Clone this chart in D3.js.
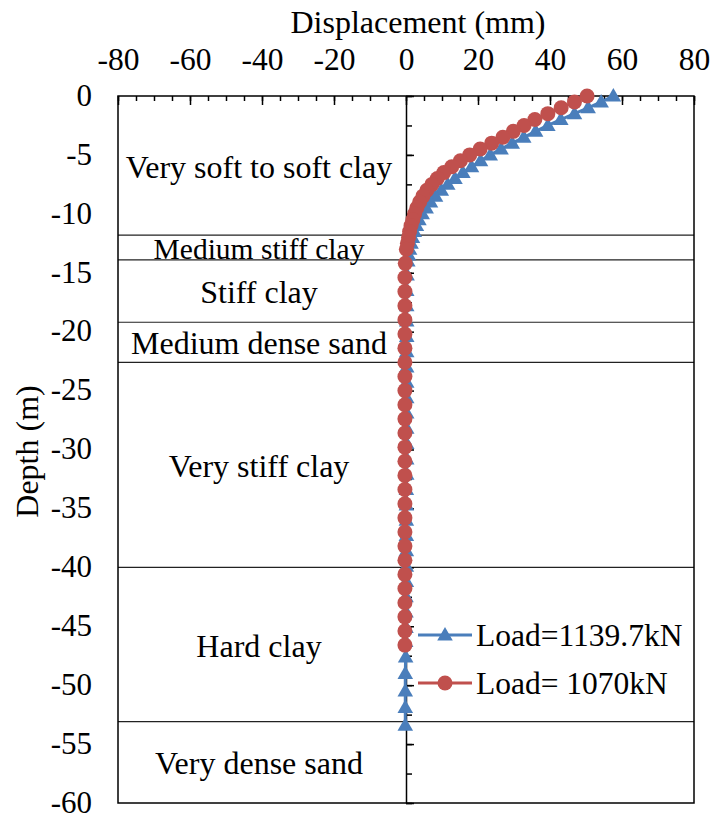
<!DOCTYPE html>
<html>
<head>
<meta charset="utf-8">
<script src="https://cdn.jsdelivr.net/npm/d3@7"></script>
<style>
  html, body { margin: 0; padding: 0; background: #fff; }
  svg { display: block; font-family: "Liberation Serif", "Times New Roman", serif; }
</style>
</head>
<body>
<svg id="chart" width="714" height="818"></svg>
<script>
// Lateral displacement profile of the pile under two load levels
const xTicks = [-80, -60, -40, -20, 0, 20, 40, 60, 80];
const yTicks = [0, -5, -10, -15, -20, -25, -30, -35, -40, -45, -50, -55, -60];

// Load = 1139.7 kN
const blueDepth = [0, -0.5, -1.0, -1.5, -2.0, -2.5, -3.0, -3.5, -4.0, -4.5, -5.0, -5.5, -6.0, -6.5, -7.0,
  -7.5, -8.0, -8.5, -9.0, -9.5, -10.0, -10.5, -11.0, -11.5, -12.0, -12.5, -13.0, -13.5, -14.0,
  -15.2, -16.5, -17.8, -19.1, -20.4, -21.7, -23.0, -24.3, -25.6, -26.9, -28.2, -29.5, -30.8, -32.1,
  -33.4, -34.7, -36.0, -37.3, -38.6, -39.9, -41.2, -42.5, -43.8, -45.1, -46.3, -47.6, -49.0, -50.5,
  -51.9, -53.4];
const blueDisp = [57.6, 54.2, 50.6, 46.8, 43.0, 39.4, 36.0, 32.7, 29.5, 26.4, 23.4, 20.7, 18.2, 15.8, 13.6,
  11.6, 9.8, 8.2, 6.8, 5.6, 4.5, 3.6, 2.9, 2.3, 1.8, 1.4, 1.0, 0.7, 0.5,
  0.3, 0.2, 0.2, 0.2, 0.2, 0.2, 0.2, 0.2, 0.2, 0.2, 0.2, 0.2, 0.2, 0.2,
  0.1, 0.1, 0.1, 0.1, 0.1, 0.1, 0.1, 0.0, 0.0, 0.0, -0.1, -0.1, -0.2, -0.2,
  -0.2, -0.2];

// Load = 1070 kN
const redDepth = [0, -0.5, -1.0, -1.5, -2.0, -2.5, -3.0, -3.5, -4.0, -4.5, -5.0, -5.5, -6.0, -6.5, -7.0,
  -7.5, -8.0, -8.5, -9.0, -9.5, -10.0, -10.5, -11.0, -11.5, -12.0, -12.5, -13.0,
  -14.2, -15.4, -16.6, -17.8, -19.0, -20.2, -21.4, -22.6, -23.8, -25.0, -26.2, -27.4, -28.6, -29.8,
  -31.0, -32.2, -33.4, -34.6, -35.8, -37.0, -38.2, -39.4, -40.6, -41.8, -43.0, -44.2, -45.4, -46.6];
const redDisp = [50.3, 46.8, 43.1, 39.4, 35.8, 32.8, 29.8, 26.9, 23.8, 20.6, 17.7, 15.1, 12.7, 10.5, 8.7,
  7.2, 5.8, 4.7, 3.8, 3.0, 2.4, 1.9, 1.4, 1.0, 0.7, 0.4, 0.1,
  -0.2, -0.3, -0.3, -0.3, -0.3, -0.3, -0.3, -0.3, -0.3, -0.3, -0.3, -0.3, -0.3, -0.3,
  -0.3, -0.3, -0.3, -0.3, -0.3, -0.3, -0.3, -0.3, -0.3, -0.3, -0.3, -0.3, -0.3, -0.3];

// Soil layers: bottom depth of each layer and its name
const layerBottoms = [-11.8, -13.9, -19.2, -22.6, -40, -53.1, -60];
const layerNames = ["Very soft to soft clay", "Medium stiff clay", "Stiff clay", "Medium dense sand",
  "Very stiff clay", "Hard clay", "Very dense sand"];

const seriesNames = ["Load=1139.7kN", "Load= 1070kN"];

const BLUE = "#4A7EBB", RED = "#C0504D";
const FONT = "Liberation Serif, Times New Roman, serif";
const fmt = d => String(d); // plain hyphen-minus labels
const svg = d3.select("#chart");

const x = d3.scaleLinear().domain([-80, 80]).range([118, 694]);
const y = d3.scaleLinear().domain([0, -60]).range([96, 803]);

// layer boundaries
const layerG = svg.append("g");
layerG.selectAll("line").data(layerBottoms.slice(0, -1)).join("line")
  .attr("x1", x(-80)).attr("x2", x(80))
  .attr("y1", d => y(d)).attr("y2", d => y(d))
  .attr("stroke", "#222").attr("stroke-width", 1.2);

// layer names, centred in each layer on the left half
const layerTops = [0].concat(layerBottoms.slice(0, -1));
layerG.selectAll("text").data(layerNames).join("text")
  .attr("x", (x(-80) + x(0)) / 2 - 3)
  .attr("y", (d, i) => (y(layerTops[i]) + y(layerBottoms[i])) / 2 + 12)
  .attr("text-anchor", "middle")
  .attr("font-size", (d, i) => i === 1 ? 29.5 : 32)
  .attr("fill", "#000")
  .text(d => d);

// plot frame
svg.append("rect")
  .attr("x", x(-80)).attr("y", y(0))
  .attr("width", x(80) - x(-80)).attr("height", y(-60) - y(0))
  .attr("fill", "none").attr("stroke", "#000").attr("stroke-width", 1.5);

// top x axis: ticks point into the plot, labels above
const xMinor = svg.append("g").attr("transform", `translate(0,${y(0)})`)
  .call(d3.axisTop(x).tickValues(d3.range(-80, 81, 5)).tickSizeInner(-5).tickSizeOuter(0).tickFormat(""));
const xMajor = svg.append("g").attr("transform", `translate(0,${y(0)})`)
  .call(d3.axisTop(x).tickValues(xTicks).tickSizeInner(-9).tickSizeOuter(0).tickPadding(26).tickFormat(fmt));
[xMinor, xMajor].forEach(g => {
  g.select(".domain").remove();
  g.selectAll("line").attr("stroke", "#000").attr("stroke-width", 1.5);
});
xMajor.selectAll("text").attr("font-size", 31.5).attr("fill", "#000").attr("font-family", FONT);

// y axis drawn at displacement 0, ticks to the right
const yMinor = svg.append("g").attr("transform", `translate(${x(0)},0)`)
  .call(d3.axisRight(y).tickValues(d3.range(0, -60.1, -2.5)).tickSizeInner(6).tickSizeOuter(0).tickFormat(""));
const yMajor = svg.append("g").attr("transform", `translate(${x(0)},0)`)
  .call(d3.axisRight(y).tickValues(yTicks).tickSizeInner(8).tickSizeOuter(0).tickFormat(""));
[yMinor, yMajor].forEach(g => g.selectAll("line").attr("stroke", "#000").attr("stroke-width", 1.5));
yMajor.select(".domain").attr("stroke", "#000").attr("stroke-width", 1.5);
yMinor.select(".domain").remove();

// y tick labels on the left of the frame
const yLab = svg.append("g").attr("transform", `translate(${x(-80)},0)`)
  .call(d3.axisLeft(y).tickValues(yTicks).tickSize(0).tickPadding(26).tickFormat(fmt));
yLab.select(".domain").remove();
yLab.selectAll("text").attr("font-size", 31).attr("fill", "#000").attr("font-family", FONT)
  .attr("dy", "0.3em");

// axis titles
svg.append("text").attr("x", x(0) + 12).attr("y", 33).attr("text-anchor", "middle")
  .attr("font-size", 32).text("Displacement (mm)");
svg.append("text").attr("transform", `translate(38,${(y(0) + y(-60)) / 2 + 2}) rotate(-90)`)
  .attr("text-anchor", "middle").attr("font-size", 32).text("Depth (m)");

// series
const line = d3.line().x(d => x(d[0])).y(d => y(d[1]));
const blue = blueDisp.map((v, i) => [v, blueDepth[i]]);
const red = redDisp.map((v, i) => [v, redDepth[i]]);
const tri = d3.symbol().type(d3.symbolTriangle).size(105);

svg.append("path").datum(blue).attr("d", line)
  .attr("fill", "none").attr("stroke", BLUE).attr("stroke-width", 3);
svg.append("g").selectAll("path").data(blue).join("path")
  .attr("d", tri).attr("transform", d => `translate(${x(d[0])},${y(d[1]) + 1})`)
  .attr("fill", BLUE);

svg.append("path").datum(red).attr("d", line)
  .attr("fill", "none").attr("stroke", RED).attr("stroke-width", 3);
svg.append("g").selectAll("circle").data(red).join("circle")
  .attr("cx", d => x(d[0])).attr("cy", d => y(d[1])).attr("r", 7.5)
  .attr("fill", RED);

// legend
const leg = svg.append("g").attr("transform", "translate(418,635)");
[BLUE, RED].forEach((c, i) => {
  const g = leg.append("g").attr("transform", `translate(0,${i * 48})`);
  g.append("line").attr("x1", 0).attr("x2", 54).attr("stroke", c).attr("stroke-width", 3);
  if (i === 0) g.append("path").attr("d", tri).attr("transform", "translate(27,1)").attr("fill", c);
  else g.append("circle").attr("cx", 27).attr("r", 7.5).attr("fill", c);
  g.append("text").attr("x", 58).attr("y", 11).attr("font-size", 31.5).text(seriesNames[i]);
});
</script>
</body>
</html>
